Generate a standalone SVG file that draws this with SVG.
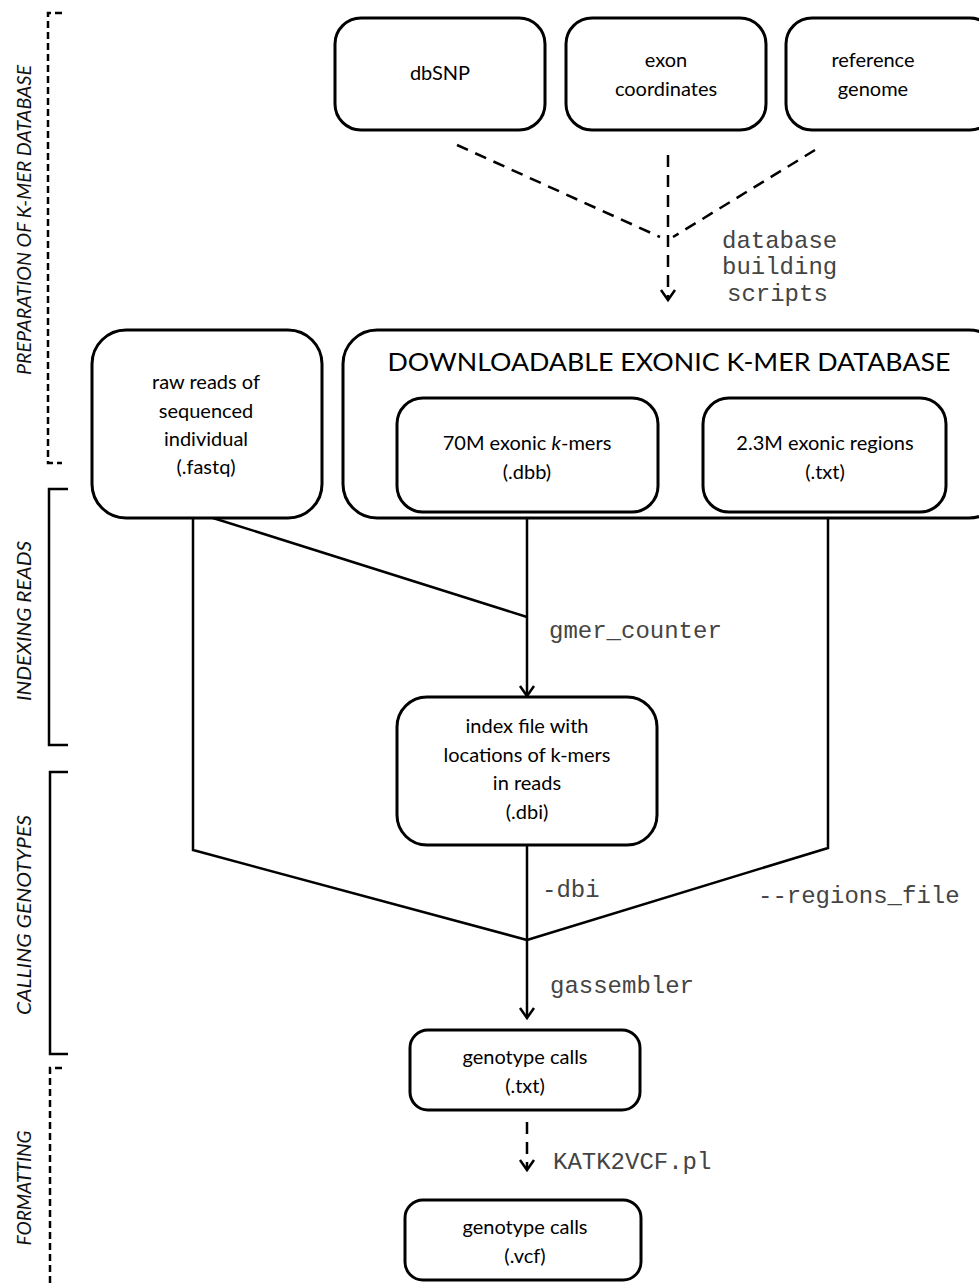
<svg xmlns="http://www.w3.org/2000/svg" width="979" height="1283" viewBox="0 0 979 1283">
<style>
.box{fill:#fff;stroke:#000;stroke-width:3}
.t{font-family:Lato,"Open Sans",sans-serif;font-size:20px;fill:#000;text-anchor:middle}
.m{font-family:"Liberation Mono","Courier New",monospace;font-size:24px;fill:#444}
.ln{fill:none;stroke:#000;stroke-width:2.5}
.dl{fill:none;stroke:#000;stroke-width:2.5;stroke-dasharray:12 8}
.br{fill:none;stroke:#000;stroke-width:2.5}
.brd{fill:none;stroke:#000;stroke-width:2.5;stroke-dasharray:7 4}
.sec{font-family:Lato,"Open Sans",sans-serif;font-style:italic;font-size:20px;fill:#111;text-anchor:middle}
</style>
<defs>
<marker id="ah" markerWidth="20" markerHeight="20" refX="16" refY="10" orient="auto" markerUnits="userSpaceOnUse" viewBox="0 0 20 20">
<path d="M6,3 L16,10 L6,17" fill="none" stroke="#000" stroke-width="2.5"/>
</marker>
</defs>
<rect width="979" height="1283" fill="#fff"/>

<g id="sections">
<path class="brd" d="M62,13 H48 V463 H62"/>
<text class="sec" transform="translate(31,220) rotate(-90)" textLength="310" lengthAdjust="spacingAndGlyphs">PREPARATION OF K-MER DATABASE</text>
<path class="br" d="M68,489 H49 V745 H68"/>
<text class="sec" transform="translate(31,621) rotate(-90)" textLength="160" lengthAdjust="spacingAndGlyphs">INDEXING READS</text>
<path class="br" d="M68,772 H50 V1054 H68"/>
<text class="sec" transform="translate(31,915) rotate(-90)" textLength="200" lengthAdjust="spacingAndGlyphs">CALLING GENOTYPES</text>
<path class="brd" d="M62,1068 H50 V1283"/>
<text class="sec" transform="translate(31,1188) rotate(-90)" textLength="115" lengthAdjust="spacingAndGlyphs">FORMATTING</text>
</g>

<g id="connectors">
<path class="dl" d="M457,145 L660,237"/>
<path class="dl" d="M815,150 L673,237"/>
<path class="dl" d="M668,155 V300" marker-end="url(#ah)"/>
<text class="m" x="722" y="248">database</text>
<text class="m" x="722" y="274">building</text>
<text class="m" x="727" y="301">scripts</text>

<path class="ln" d="M193,518 V850 L527,940"/>
<path class="ln" d="M213,518 L527,617"/>
<path class="ln" d="M527,512 V696" marker-end="url(#ah)"/>
<text class="m" x="549" y="638">gmer_counter</text>
<path class="ln" d="M527,845 V940"/>
<text class="m" x="542" y="897">-dbi</text>
<path class="ln" d="M828,512 V848 L527,940"/>
<text class="m" x="758" y="903">--regions_file</text>
<path class="ln" d="M527,940 V1018" marker-end="url(#ah)"/>
<text class="m" x="550" y="993">gassembler</text>
<path class="dl" d="M527,1122 V1170" stroke-dasharray="18 14" marker-end="url(#ah)"/>
<text class="m" x="553" y="1169">KATK2VCF.pl</text>
</g>

<g id="dbsnp">
<rect class="box" x="335" y="18" width="210" height="112" rx="26"/>
<text class="t" x="440" y="80">dbSNP</text>
</g>
<g id="exon">
<rect class="box" x="566" y="18" width="200" height="112" rx="26"/>
<text class="t" x="666" y="67">exon</text>
<text class="t" x="666" y="96">coordinates</text>
</g>
<g id="refgenome">
<rect class="box" x="786" y="18" width="210" height="112" rx="26"/>
<text class="t" x="873" y="67">reference</text>
<text class="t" x="873" y="96">genome</text>
</g>

<g id="rawreads">
<rect class="box" x="92" y="330" width="230" height="188" rx="34"/>
<text class="t" x="206" y="389">raw reads of</text>
<text class="t" x="206" y="418">sequenced</text>
<text class="t" x="206" y="446">individual</text>
<text class="t" x="206" y="474">(.fastq)</text>
</g>

<g id="database">
<rect class="box" x="343" y="330" width="660" height="188" rx="34"/>
<text class="t" x="669" y="371" style="font-size:25px" textLength="563" lengthAdjust="spacingAndGlyphs">DOWNLOADABLE EXONIC K-MER DATABASE</text>
</g>
<g id="kmers">
<rect class="box" x="397" y="398" width="261" height="114" rx="26"/>
<text class="t" x="527" y="450">70M exonic <tspan font-style="italic">k</tspan>-mers</text>
<text class="t" x="527" y="479">(.dbb)</text>
</g>
<g id="regions">
<rect class="box" x="703" y="398" width="243" height="114" rx="26"/>
<text class="t" x="825" y="450">2.3M exonic regions</text>
<text class="t" x="825" y="479">(.txt)</text>
</g>

<g id="index">
<rect class="box" x="397" y="697" width="260" height="148" rx="30"/>
<text class="t" x="527" y="733">index file with</text>
<text class="t" x="527" y="762">locations of k-mers</text>
<text class="t" x="527" y="790">in reads</text>
<text class="t" x="527" y="819">(.dbi)</text>
</g>

<g id="gtxt">
<rect class="box" x="410" y="1030" width="230" height="80" rx="18"/>
<text class="t" x="525" y="1064">genotype calls</text>
<text class="t" x="525" y="1093">(.txt)</text>
</g>
<g id="gvcf">
<rect class="box" x="405" y="1200" width="236" height="80" rx="18"/>
<text class="t" x="525" y="1234">genotype calls</text>
<text class="t" x="525" y="1263">(.vcf)</text>
</g>
</svg>
